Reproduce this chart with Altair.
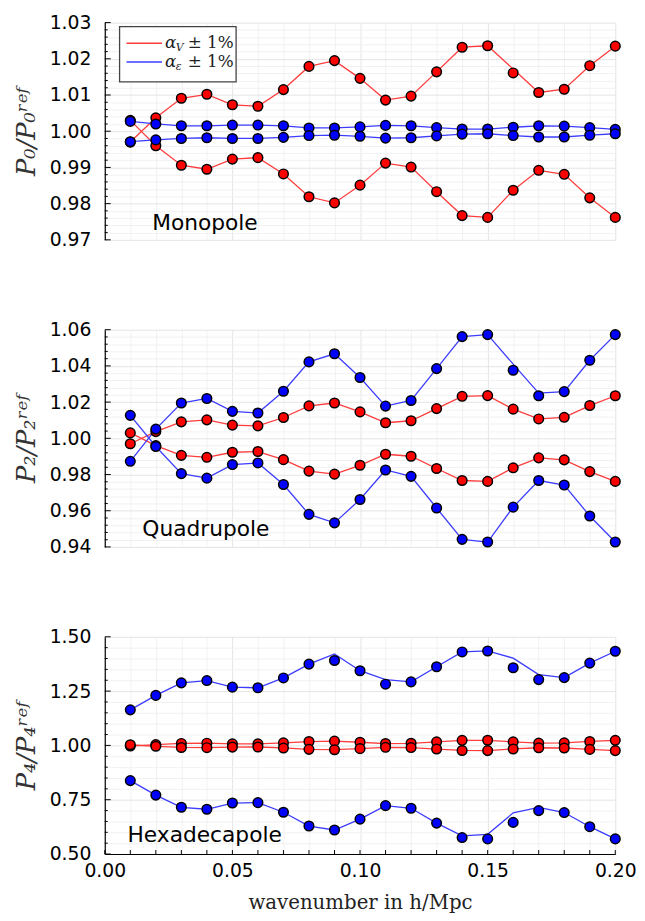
import altair as alt
import pandas as pd

# ---------------- data ----------------
k = [0.01, 0.02, 0.03, 0.04, 0.05, 0.06, 0.07, 0.08, 0.09, 0.10,
     0.11, 0.12, 0.13, 0.14, 0.15, 0.16, 0.17, 0.18, 0.19, 0.20]

# alpha_V +/- 1% (same in every multipole panel)
red_up = [0.9970, 1.0037, 1.0091, 1.0102, 1.0073, 1.0069, 1.0115, 1.0179, 1.0195, 1.0146,
          1.0086, 1.0097, 1.0164, 1.0232, 1.0236, 1.0161, 1.0107, 1.0116, 1.0181, 1.0235]
red_up_line = {0.16: 1.0172}
red_down = [1.0030, 0.9960, 0.9906, 0.9895, 0.9923, 0.9927, 0.9882, 0.9819, 0.9802, 0.9851,
            0.9912, 0.9901, 0.9833, 0.9767, 0.9762, 0.9837, 0.9892, 0.9881, 0.9816, 0.9762]

# alpha_eps +/- 1%
mono_blue_up = [1.0027, 1.0020, 1.0015, 1.0015, 1.0017, 1.0017, 1.0015, 1.0009, 1.0009, 1.0012,
                1.0016, 1.0015, 1.0010, 1.0006, 1.0006, 1.0011, 1.0015, 1.0014, 1.0010, 1.0005]
mono_blue_down = [0.9971, 0.9976, 0.9980, 0.9982, 0.9980, 0.9980, 0.9983, 0.9988, 0.9989, 0.9986,
                  0.9981, 0.9982, 0.9987, 0.9992, 0.9993, 0.9988, 0.9984, 0.9984, 0.9989, 0.9993]

quad_blue_up = [0.9873, 1.0051, 1.0195, 1.0220, 1.0149, 1.0140, 1.0260, 1.0422, 1.0467, 1.0336,
                1.0178, 1.0209, 1.0385, 1.0562, 1.0573, 1.0376, 1.0235, 1.0258, 1.0431, 1.0573]
quad_blue_up_line = {0.16: 1.0410, 0.17: 1.0250}
quad_blue_down = [1.0127, 0.9955, 0.9805, 0.9780, 0.9855, 0.9864, 0.9745, 0.9580, 0.9533, 0.9662,
                  0.9825, 0.9790, 0.9615, 0.9442, 0.9427, 0.9620, 0.9767, 0.9742, 0.9571, 0.9427]

hexa_blue_up = [1.1636, 1.2303, 1.2879, 1.2985, 1.2682, 1.2652, 1.3106, 1.3742, 1.3909, 1.3439,
                1.2818, 1.2924, 1.3621, 1.4303, 1.4348, 1.3576, 1.3030, 1.3121, 1.3788, 1.4333]
hexa_blue_up_line = {0.09: 1.4212, 0.11: 1.3030, 0.16: 1.4015, 0.17: 1.3258}
hexa_blue_down = [0.8379, 0.7712, 0.7152, 0.7061, 0.7348, 0.7364, 0.6924, 0.6288, 0.6106, 0.6606,
                  0.7227, 0.7106, 0.6424, 0.5758, 0.5697, 0.6455, 0.7000, 0.6909, 0.6258, 0.5697]
hexa_blue_down_line = {0.14: 0.5833, 0.15: 0.5909, 0.16: 0.6894, 0.17: 0.7150}

panel_names = ["Monopole", "Quadrupole", "Hexadecapole"]
y_titles = ["P₀/P₀ʳᵉᶠ", "P₂/P₂ʳᵉᶠ", "P₄/P₄ʳᵉᶠ"]
y_domains = [[0.97, 1.03], [0.94, 1.06], [0.50, 1.50]]
y_major = [[0.97, 0.98, 0.99, 1.00, 1.01, 1.02, 1.03],
           [0.94, 0.96, 0.98, 1.00, 1.02, 1.04, 1.06],
           [0.50, 0.75, 1.00, 1.25, 1.50]]
y_minor_div = 5
x_major = [0.00, 0.05, 0.10, 0.15, 0.20]
x_minor = [round(i * 0.01, 2) for i in range(21)]
legend_labels = ["α", "α"]

W, H = 517, 220
RED, BLUE = "#ff0000", "#0000ff"
RED_L, BLUE_L = "#ff3c3c", "#3c3cff"


def series_df(name, color, marks, overrides=None):
    overrides = overrides or {}
    rows = []
    for kk, v in zip(k, marks):
        rows.append({"k": kk, "v": v, "s": name, "kind": "pt", "c": color})
        rows.append({"k": kk, "v": overrides.get(kk, v), "s": name, "kind": "ln", "c": color})
    return rows


def minor_vals(major):
    out = []
    for a, b in zip(major[:-1], major[1:]):
        step = (b - a) / y_minor_div
        for i in range(y_minor_div):
            out.append(round(a + i * step, 4))
    out.append(major[-1])
    return out


def panel(idx, rows):
    df = pd.DataFrame(rows)
    dom = y_domains[idx]
    major = y_major[idx]
    mstep = round(major[1] - major[0], 4)
    yvals = minor_vals(major)
    is_major = f"abs(datum.value/{mstep} - round(datum.value/{mstep})) < 1e-6"
    xs = alt.Scale(domain=[0, 0.2], nice=False, zero=False)
    ys = alt.Scale(domain=dom, nice=False, zero=False)
    bottom = idx == 2
    xaxis = alt.Axis(
        values=x_minor,
        grid=True,
        gridColor={"condition": {"test": "abs(datum.value/0.05 - round(datum.value/0.05)) < 1e-6", "value": "#e4e4e4"}, "value": "#f1f1f1"},
        ticks=False,
        domain=bottom,
        domainColor="black",
        domainWidth=1.2,
        labels=bottom,
        labelExpr="abs(datum.value/0.05 - round(datum.value/0.05)) < 1e-6 ? format(datum.value, '.2f') : ''",
        labelFont="DejaVu Sans",
        labelFontSize=19,
        labelColor="black",
        labelPadding=8 if bottom else 0,
        labelFlush=False,
        labelOverlap=False,
        labelBound=False,
        title="wavenumber in h/Mpc" if bottom else None,
        titleFont="DejaVu Serif",
        titleFontSize=20,
        titleFontWeight="normal",
        titleColor="#222",
        titlePadding=12,
    )
    yaxis = alt.Axis(
        values=yvals,
        grid=True,
        gridColor={"condition": {"test": is_major, "value": "#e4e4e4"}, "value": "#f1f1f1"},
        ticks=False,
        domain=True,
        domainColor="black",
        domainWidth=1.2,
        labelExpr=f"{is_major} ? format(datum.value, '.2f') : ''",
        labelFont="DejaVu Sans",
        labelFontSize=19,
        labelColor="black",
        labelPadding=14,
        labelOverlap=False,
        labelFlush=False,
        labelBound=False,
        title=y_titles[idx],
        titleFont="DejaVu Serif",
        titleFontStyle="italic",
        titleFontWeight="normal",
        titleFontSize=26,
        titleColor="#333",
        titlePadding=10,
    )
    base = alt.Chart(df)
    lines = base.transform_filter(alt.datum.kind == "ln").mark_line(strokeWidth=1.3).encode(
        x=alt.X("k:Q", scale=xs, axis=xaxis),
        y=alt.Y("v:Q", scale=ys, axis=yaxis),
        detail="s:N",
        color=alt.Color("c:N", scale=None),
    )
    pts = base.transform_filter(alt.datum.kind == "pt").mark_point(
        filled=True, size=95, stroke="black", strokeWidth=1.5, opacity=1
    ).encode(
        x=alt.X("k:Q", scale=xs, axis=xaxis),
        y=alt.Y("v:Q", scale=ys, axis=yaxis),
        fill=alt.Fill("c:N", scale=None),
    )
    # inward ticks on the y axis
    tdf = pd.DataFrame({"t": yvals, "len": [6 if abs(v / mstep - round(v / mstep)) < 1e-6 else 3 for v in yvals]})
    yt_major = alt.Chart(tdf[tdf.len == 6]).mark_rule(color="black", strokeWidth=1).encode(
        y=alt.Y("t:Q", scale=ys, axis=yaxis), x=alt.value(0), x2=alt.value(6))
    yt_minor = alt.Chart(tdf[tdf.len == 3]).mark_rule(color="black", strokeWidth=1).encode(
        y=alt.Y("t:Q", scale=ys, axis=yaxis), x=alt.value(0), x2=alt.value(3))
    label = alt.Chart(pd.DataFrame({"t": [panel_names[idx]]})).mark_text(
        font="DejaVu Sans", fontSize=22, align="left", baseline="middle", color="black"
    ).encode(text="t:N", x=alt.value([48, 38, 23][idx]), y=alt.value([203, 202, 201][idx]))
    layers = [lines, yt_major, yt_minor, pts, label]
    if bottom:
        xdf = pd.DataFrame({"t": x_minor})
        xt = alt.Chart(xdf).mark_rule(color="black", strokeWidth=1).encode(
            x=alt.X("t:Q", scale=xs, axis=xaxis), y=alt.value(H), y2=alt.value(H - 4))
        layers.insert(1, xt)
    if idx == 0:
        layers += legend()
    return alt.layer(*layers).properties(width=W, height=H)


def legend():
    one = pd.DataFrame({"a": [0]})
    box = alt.Chart(one).mark_rect(fill="white", stroke="#444", strokeWidth=1.3).encode(
        x=alt.value(15), x2=alt.value(133), y=alt.value(4), y2=alt.value(60))
    out = [box]
    for i, (col, sub) in enumerate([(RED_L, "V"), (BLUE_L, "ε")]):
        yy = 21 + 19 * i
        out.append(alt.Chart(one).mark_rule(color=col, strokeWidth=1.5).encode(
            x=alt.value(22), x2=alt.value(58), y=alt.value(yy)))
        out.append(alt.Chart(pd.DataFrame({"t": [legend_labels[i]]})).mark_text(
            font="DejaVu Serif", fontStyle="italic", fontSize=17, align="left", baseline="middle", color="#222"
        ).encode(text="t:N", x=alt.value(61), y=alt.value(yy)))
        out.append(alt.Chart(pd.DataFrame({"t": [sub]})).mark_text(
            font="DejaVu Serif", fontStyle="italic", fontSize=11, align="left", baseline="middle", color="#222"
        ).encode(text="t:N", x=alt.value(72), y=alt.value(yy + 5)))
        out.append(alt.Chart(pd.DataFrame({"t": ["± 1%"]})).mark_text(
            font="DejaVu Serif", fontSize=17, align="left", baseline="middle", color="#222"
        ).encode(text="t:N", x=alt.value(84), y=alt.value(yy)))
    return out


rows0 = (series_df("rU", RED_L, red_up, red_up_line) + series_df("rD", RED_L, red_down)
         + series_df("bU", BLUE_L, mono_blue_up) + series_df("bD", BLUE_L, mono_blue_down))
rows1 = (series_df("rU", RED_L, red_up) + series_df("rD", RED_L, red_down)
         + series_df("bU", BLUE_L, quad_blue_up, quad_blue_up_line) + series_df("bD", BLUE_L, quad_blue_down))
rows2 = (series_df("rU", RED_L, red_up) + series_df("rD", RED_L, red_down)
         + series_df("bU", BLUE_L, hexa_blue_up, hexa_blue_up_line)
         + series_df("bD", BLUE_L, hexa_blue_down, hexa_blue_down_line))


def fix(rows):
    for r in rows:
        if r["kind"] == "pt":
            r["c"] = RED if r["c"] == RED_L else BLUE
    return rows


chart = alt.vconcat(
    panel(0, fix(rows0)), panel(1, fix(rows1)), panel(2, fix(rows2)), spacing=72
).configure_view(stroke=None).properties(
    background="white", padding={"left": 5, "top": 0, "right": 0, "bottom": 0}
)

chart.save("out.html", embed_options={"renderer": "svg", "actions": False})
